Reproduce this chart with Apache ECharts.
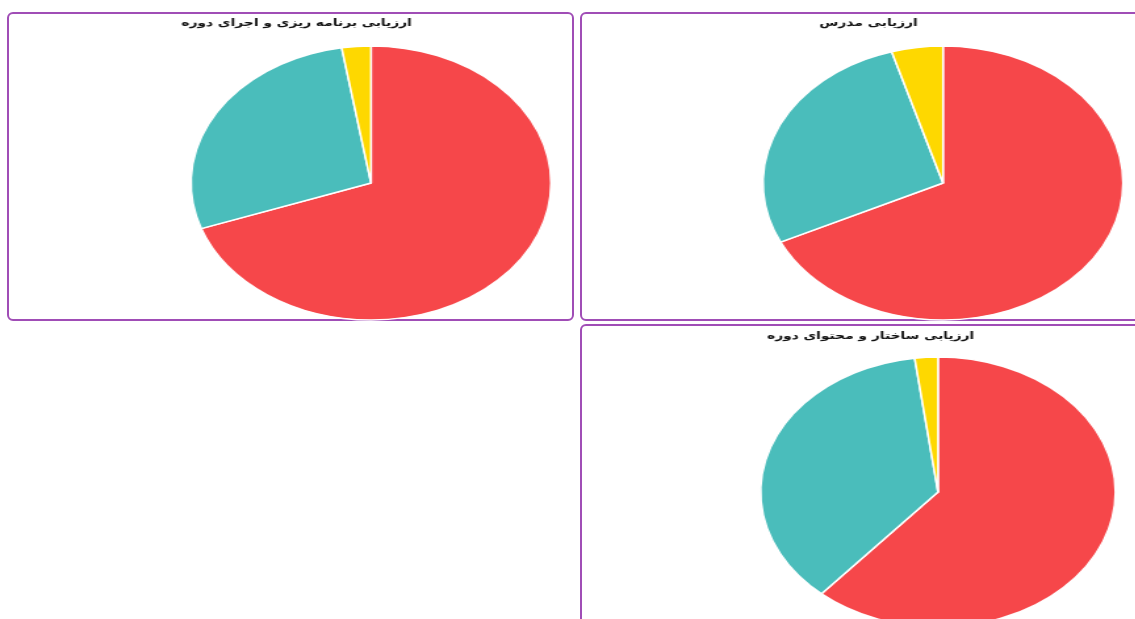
<!DOCTYPE html>
<html>
<head>
<meta charset="utf-8">
<script src="https://cdn.jsdelivr.net/npm/echarts@6/dist/echarts.min.js"></script>
<style>
  html, body { margin:0; padding:0; width:1135px; height:619px; overflow:hidden; background:#fff; }
  .box { position:absolute; box-sizing:border-box; border:2px solid #a04db6; border-radius:6px; }
  #chart { position:absolute; left:0; top:0; height:619px; transform-origin:0 0; }
</style>
</head>
<body>
<div class="box" style="left:7px;top:12px;width:567px;height:309px;"></div>
<div class="box" style="left:580px;top:12px;width:567px;height:309px;"></div>
<div class="box" style="left:580px;top:324px;width:567px;height:309px;"></div>
<div id="chart"></div>
<script>
// Data
const categories = ["خوب", "متوسط", "ضعیف"];
const titles = ["ارزیابی برنامه ریزی و اجرای دوره", "ارزیابی مدرس", "ارزیابی ساختار و محتوای دوره"];
const planningValues = [69.6, 27.8, 2.6];
const teacherValues = [67.9, 27.5, 4.6];
const structureValues = [61.4, 36.5, 2.1];
const colors = ["#f6474a", "#4abdbb", "#fed800"];

// Layout (the reference is horizontally stretched, so draw narrower and scale)
const SX = 1.314;
const W = 1135 / SX;
const el = document.getElementById('chart');
el.style.width = W + 'px';
el.style.transform = 'scaleX(' + SX + ')';

const chart = echarts.init(el, null, { renderer: 'canvas' });
const mk = (vals) => categories.map((c, i) => ({ name: c, value: vals[i] }));
const pies = [
  { vals: planningValues, cx: 371, cy: 183, r: 137 },
  { vals: teacherValues, cx: 943, cy: 183, r: 137 },
  { vals: structureValues, cx: 938, cy: 492, r: 135 }
];
const titleCenters = [ [290, 20], [862, 20], [864, 333] ];
const titleFont = { fontFamily: 'DejaVu Sans', fontWeight: 'bold', fontSize: 10.5, color: '#111' };

chart.setOption({
  animation: false,
  color: colors,
  title: titles.map((t, i) => ({
    text: t,
    left: titleCenters[i][0] / SX,
    top: titleCenters[i][1] - 7,
    textAlign: 'center',
    textStyle: titleFont
  })),
  series: pies.map(p => ({
    type: 'pie',
    center: [p.cx / SX, p.cy],
    radius: p.r,
    startAngle: 90,
    clockwise: true,
    label: { show: false },
    labelLine: { show: false },
    emphasis: { disabled: true },
    itemStyle: { borderColor: '#fff', borderWidth: 1.5 },
    data: mk(p.vals)
  }))
});
</script>
</body>
</html>
